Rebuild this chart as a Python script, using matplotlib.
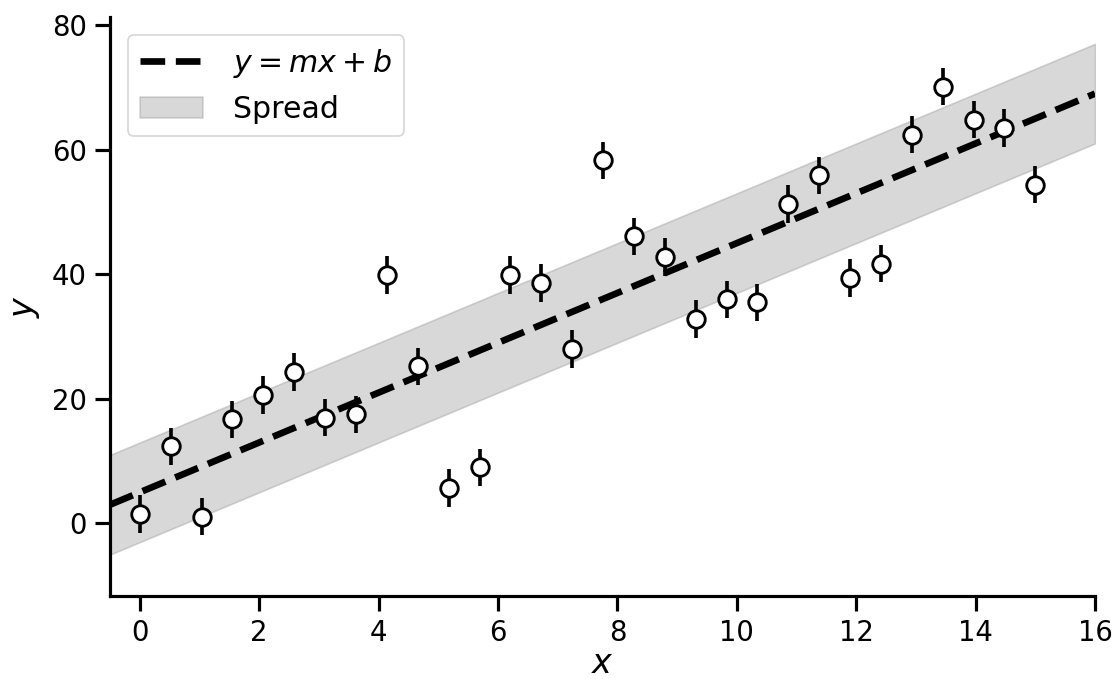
import matplotlib
matplotlib.use("Agg")
import matplotlib.pyplot as plt
import numpy as np

# observed points
x_obs = [0.0, 0.517, 1.034, 1.552, 2.069, 2.586, 3.103, 3.621, 4.138, 4.655,
         5.172, 5.690, 6.207, 6.724, 7.241, 7.759, 8.276, 8.793, 9.310, 9.828,
         10.345, 10.862, 11.379, 11.897, 12.414, 12.931, 13.448, 13.966, 14.483, 15.0]
y_obs = [1.5, 12.4, 1.1, 16.7, 20.6, 24.3, 17.0, 17.5, 39.9, 25.2,
         5.7, 9.0, 39.9, 38.6, 28.0, 58.3, 46.1, 42.8, 32.8, 36.0,
         35.5, 51.3, 55.9, 39.4, 41.7, 62.4, 70.1, 64.8, 63.5, 54.4]
y_err = 3.0

# model line and spread
m = 4.0
b = 5.0
spread = 8.0
x_line = [-0.5, 16.0]

plt.rcParams.update({
    "font.family": ["DejaVu Sans"],
    "xtick.labelsize": 16.5,
    "ytick.labelsize": 16.5,
    "xtick.major.size": 9,
    "ytick.major.size": 9,
    "xtick.major.width": 1.9,
    "ytick.major.width": 1.9,
    "xtick.major.pad": 5,
    "ytick.major.pad": 5,
    "axes.linewidth": 1.9,
})

fig = plt.figure(figsize=(1117 / 120, 679 / 120), dpi=120)
ax = fig.add_axes([110 / 1117, (679 - 595.7) / 679,
                   (1095 - 110) / 1117, (595.7 - 16.7) / 679])

xl = np.array(x_line)
yl = m * xl + b
ax.plot(xl, yl, "k--", lw=4, label="$y = mx + b$")
ax.fill_between(xl, yl - spread, yl + spread, color="gray", alpha=0.3, label="Spread")
ax.errorbar(x_obs, y_obs, yerr=y_err, fmt="o", color="k", mfc="white", mec="k",
            ms=10.5, mew=1.7, elinewidth=2.2, capsize=0)

ax.set_xlim(-0.5, 16)
ax.set_ylim(-11.6, 81.35)
ax.set_xticks([0, 2, 4, 6, 8, 10, 12, 14, 16])
ax.set_yticks([0, 20, 40, 60, 80])
ax.set_xlabel("$x$", fontsize=20, labelpad=0)
ax.set_ylabel("$y$", fontsize=20, labelpad=6)
ax.legend(loc="upper left", fontsize=18, handlelength=2.1, handletextpad=1.0,
          borderaxespad=0.6)
ax.spines["top"].set_visible(False)
ax.spines["right"].set_visible(False)

plt.savefig("out.png", dpi=120)
plt.close()
